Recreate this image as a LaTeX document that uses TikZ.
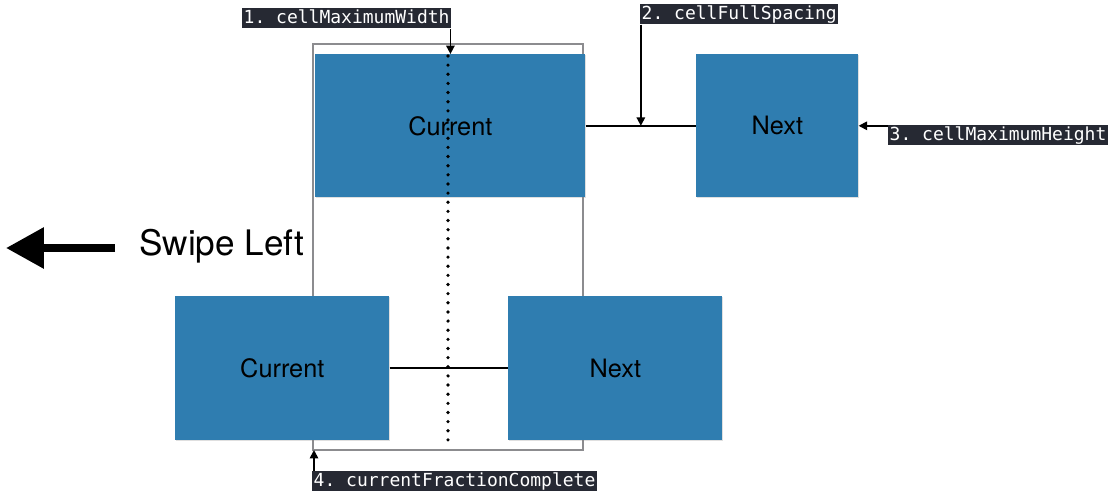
\documentclass[tikz,border=0pt]{standalone}
\usepackage{xcolor}
\usepackage{fontspec}
\setsansfont{TeX Gyre Heros}
\setmonofont{DejaVu Sans Mono}
\usepackage{tikz}
\usetikzlibrary{arrows.meta, shadows}
\definecolor{cellblue}{RGB}{47,125,176}
\definecolor{tagdark}{RGB}{38,41,51}
\definecolor{framegray}{RGB}{140,140,143}

\begin{document}
\begin{tikzpicture}[x=0.025cm, y=-0.025cm,
  cell/.style={fill=cellblue, anchor=north west, inner sep=0pt, drop shadow={opacity=0.25, shadow xshift=0.4pt, shadow yshift=-0.7pt}, font=\sffamily\fontsize{18}{20}\selectfont},
  tag/.style={fill=tagdark, text=white, anchor=north west, inner xsep=1pt, inner ysep=0pt, text height=10.5pt, text depth=3.7pt, font=\ttfamily\fontsize{12.8}{14}\selectfont},
  link/.style={line width=1.2pt},
  pointer/.style={line width=1.2pt, -{Triangle[length=6pt, width=6pt]}}]
\useasboundingbox (0,0) rectangle (1112,495);
\draw[framegray, line width=1.1pt] (313,44) rectangle (583,450);
\coordinate (fbl) at (314,450);
\node[cell, minimum width=6.75cm, minimum height=3.575cm] (cur) at (315,54) {Current};
\node[cell, minimum width=4.05cm, minimum height=3.575cm] (nxt) at (696,54) {Next};
\node[cell, minimum width=5.35cm, minimum height=3.6cm] (cur2) at (175,296) {Current};
\node[cell, minimum width=5.35cm, minimum height=3.6cm] (nxt2) at (508,296) {Next};
\draw[link] (cur.east) -- (nxt.west);
\draw[link] (cur2.east) -- (nxt2.west);
\draw[line width=2.6pt, line cap=round, dash pattern=on 0pt off 6.5pt] (448,56) -- (448,443);
\node[tag] (l1) at (242,8) {1. cellMaximumWidth};
\node[tag] (l2) at (640,4) {2. cellFullSpacing};
\node[tag] (l3) at (888,125) {3. cellMaximumHeight};
\node[tag] (l4) at (312,471) {4. currentFractionComplete};
\draw[pointer] ([xshift=-0.6pt]l1.south east) -- ([xshift=-0.6pt]l1.south east |- cur.north);
\draw[pointer] ([xshift=0.6pt]l2.south west) -- ([xshift=0.6pt]l2.south west |- cur.east);
\draw[pointer] (l3.north west |- nxt.east) -- (nxt.east);
\draw[pointer] (fbl |- l4.north) -- (fbl);
\node[anchor=west, inner sep=0pt, font=\sffamily\fontsize{25}{28}\selectfont] (swipe) at (139,246) {Swipe Left};
\coordinate (tail) at (115,248);
\coordinate (tip) at (6,248);
\draw[line width=5.8pt, -{Triangle[length=27pt, width=28pt]}] (tail) -- (tip);
\end{tikzpicture}
\end{document}
